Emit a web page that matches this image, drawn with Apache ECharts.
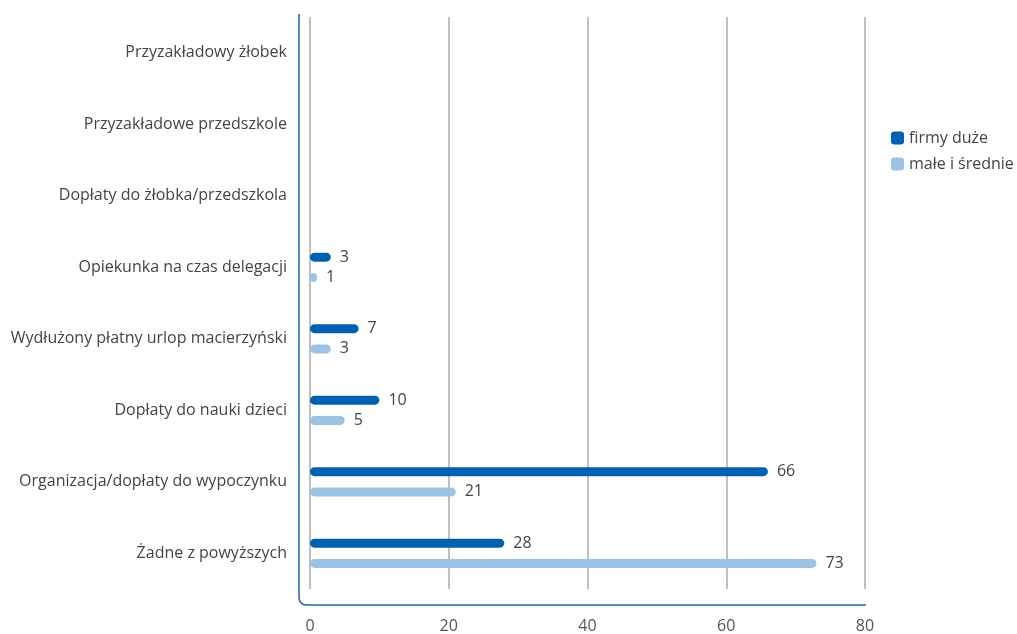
<!DOCTYPE html>
<html>
<head>
<meta charset="utf-8">
<script src="https://cdn.jsdelivr.net/npm/echarts@6/dist/echarts.min.js"></script>
<style>
  html, body { margin: 0; padding: 0; background: #fff; }
  #chart { width: 1017px; height: 634px; }
</style>
</head>
<body>
<div id="chart"></div>
<script>
// Benefit categories, top to bottom
const categories = [
  'Przyzakładowy żłobek',
  'Przyzakładowe przedszkole',
  'Dopłaty do żłobka/przedszkola',
  'Opiekunka na czas delegacji',
  'Wydłużony płatny urlop macierzyński',
  'Dopłaty do nauki dzieci',
  'Organizacja/dopłaty do wypoczynku',
  'Żadne z powyższych'
];
const seriesNames = ['firmy duże', 'małe i średnie'];
const largeFirms = [null, null, null, 3, 7, 10, 66, 28];
const smallMediumFirms = [null, null, null, 1, 3, 5, 21, 73];
const xTicks = { min: 0, max: 80, interval: 20 };

const DARK = '#0061B0';
const LIGHT = '#9CC2E4';
const FRAME = '#1F64AE';
const FONT = '"Open Sans", "Noto Sans", sans-serif';

const chart = echarts.init(document.getElementById('chart'));

const gridBox = { left: 310, right: 152, top: 17, bottom: 44 };
const yOffset = 11;
const xOffset = 15;

function barSeries(name, data, color) {
  return {
    name: name,
    type: 'bar',
    data: data,
    barWidth: 9,
    barGap: '125%',
    itemStyle: { color: color, borderRadius: 4.5 },
    label: {
      show: true,
      position: 'right',
      distance: 9,
      color: '#444',
      fontFamily: FONT,
      fontSize: 16
    }
  };
}

chart.setOption({
  animation: false,
  textStyle: { fontFamily: FONT },
  grid: Object.assign({ containLabel: false }, gridBox),
  legend: {
    orient: 'vertical',
    left: 886,
    top: 125,
    itemWidth: 13,
    itemHeight: 13,
    itemGap: 10,
    icon: 'roundRect',
    textStyle: { color: '#444', fontSize: 16, fontFamily: FONT },
    data: seriesNames
  },
  xAxis: {
    type: 'value',
    min: xTicks.min,
    max: xTicks.max,
    interval: xTicks.interval,
    offset: xOffset,
    axisLine: { show: false },
    axisTick: { show: false },
    axisLabel: { color: '#555', fontSize: 16, margin: 14, fontFamily: FONT },
    splitLine: { show: true, lineStyle: { color: '#ababab', width: 1.5 } }
  },
  yAxis: {
    type: 'category',
    inverse: true,
    data: categories,
    offset: yOffset,
    axisLine: { show: false },
    axisTick: { show: false },
    axisLabel: { color: '#444', fontSize: 16, margin: 12, fontFamily: FONT }
  },
  series: [
    barSeries(seriesNames[0], largeFirms, DARK),
    barSeries(seriesNames[1], smallMediumFirms, LIGHT)
  ]
});

// Frame: left and bottom lines joined by a rounded corner, derived from the grid box
const W = chart.getWidth(), H = chart.getHeight();
const x0 = gridBox.left - yOffset;
const yTop = gridBox.top - 3;
const yBot = H - gridBox.bottom + xOffset;
const xRight = W - gridBox.right + 1;
const r = 7;
const frameStyle = { fill: null, stroke: FRAME, lineWidth: 1.5 };
chart.setOption({
  graphic: [
    {
      type: 'line', silent: true,
      shape: { x1: x0, y1: yTop, x2: x0, y2: yBot - r },
      style: frameStyle
    },
    {
      type: 'arc', silent: true,
      shape: { cx: x0 + r, cy: yBot - r, r: r, startAngle: Math.PI / 2, endAngle: Math.PI, clockwise: true },
      style: frameStyle
    },
    {
      type: 'line', silent: true,
      shape: { x1: x0 + r, y1: yBot, x2: xRight, y2: yBot },
      style: frameStyle
    }
  ]
});
</script>
</body>
</html>
